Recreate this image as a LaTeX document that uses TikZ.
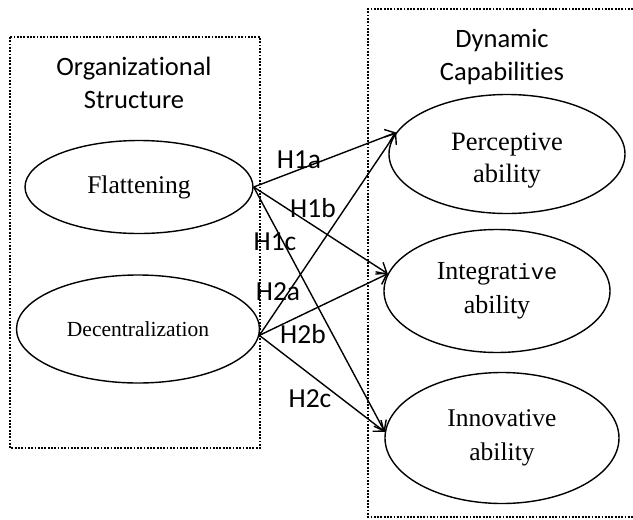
\documentclass[tikz,border=0pt]{standalone}
\usepackage{fontspec}
\setmainfont{Liberation Serif}
\newfontfamily\labelfont[Ligatures=NoCommon]{Carlito}
\newfontfamily\monofnt{Liberation Mono}
\usetikzlibrary{shapes.geometric,arrows.meta}
\begin{document}
\begin{tikzpicture}[x=1pt,y=-1pt,
  oval/.style={draw,ellipse,line width=1.4pt,inner sep=0pt,align=center},
  grpbox/.style={draw,line width=2.3pt,dash pattern=on 1.8pt off 1.5pt},
  link/.style={draw,line width=1.4pt,-{Straight Barb[length=9pt,width=14pt,line width=1.4pt]}},
  hlab/.style={font=\labelfont\fontsize{27.5}{32}\selectfont,inner sep=0pt},
  ttl/.style={font=\labelfont\fontsize{26.5}{33}\selectfont,align=center,inner sep=0pt}]
\useasboundingbox (0,0) rectangle (633,520);
\draw[grpbox] (10,37) rectangle (260,448);
\draw[grpbox] (633,9) -- (368,9) -- (368,517) -- (633,517);
\node[ttl] (orgt) at (134,83) {Organizational\\Structure};
\node[ttl] (dynt) at (502,57) {Dynamic\\Capabilities};
\node[oval,minimum width=228pt,minimum height=93pt,font=\fontsize{25.5}{30}\selectfont] (flat) at (139,187) {Flattening};
\node[oval,minimum width=243pt,minimum height=108pt,font=\fontsize{21.5}{26}\selectfont] (dec) at (138,329) {Decentralization};
\node[oval,minimum width=236pt,minimum height=119pt,font=\fontsize{26.5}{32}\selectfont] (perc) at (507,154) {\raisebox{-6pt}[\height][\depth]{\begin{tabular}{@{}c@{}}Perceptive\\ability\end{tabular}}};
\node[oval,minimum width=226pt,minimum height=123pt,font=\fontsize{26}{34}\selectfont] (integ) at (497,291) {Integrat{\monofnt\fontsize{22}{34}\selectfont ive}\\ability};
\node[oval,minimum width=234pt,minimum height=131pt,font=\fontsize{25.5}{34}\selectfont] (innov) at (502,438) {Innovative\\ability};
\draw[link] (flat.east) -- (perc.169);
\draw[link] (flat.east) -- (integ.171);
\draw[link] (flat.east) -- (innov.177);
\draw[link] (dec.357) -- (perc.169);
\draw[link] (dec.357) -- (integ.171);
\draw[link] (dec.357) -- (innov.177);
\node[hlab] (h1a) at (299,160) {H1a};
\node[hlab] (h1b) at (313,208) {H1b};
\node[hlab] (h1c) at (275,242) {H1c};
\node[hlab] (h2a) at (278,292) {H2a};
\node[hlab] (h2b) at (303,334) {H2b};
\node[hlab] (h2c) at (310,399) {H2c};
\end{tikzpicture}
\end{document}
